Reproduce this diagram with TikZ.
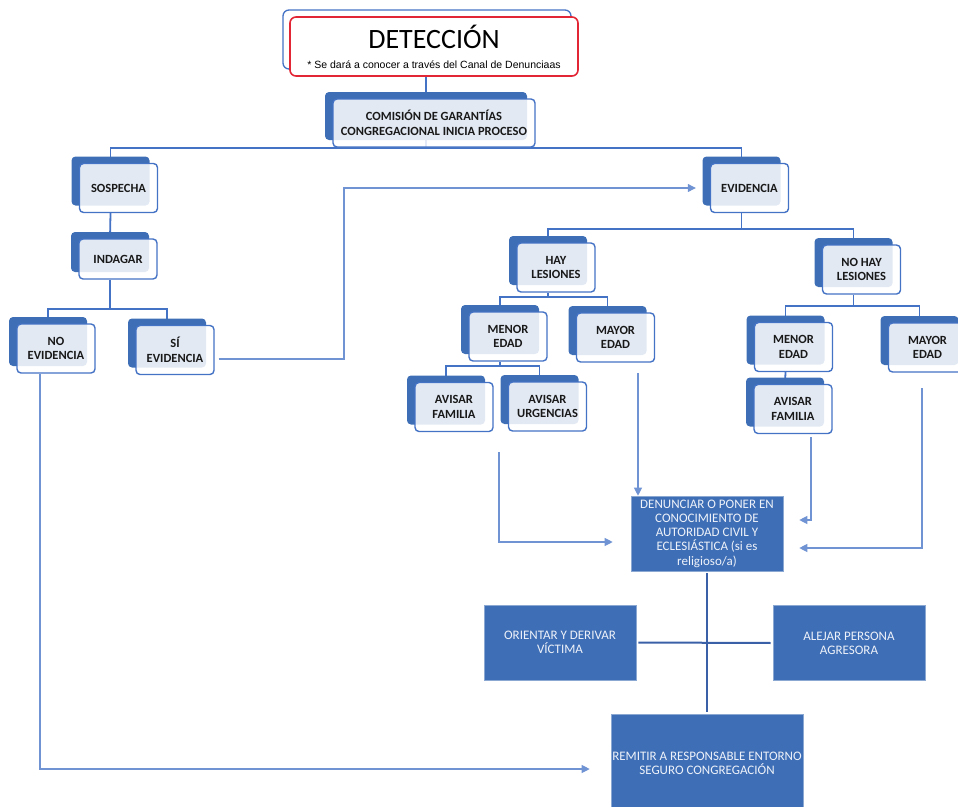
\documentclass[tikz,border=0pt]{standalone}
\usepackage{fontspec}
\setmainfont{Carlito}
\newfontfamily\arialfont{Liberation Sans}
\usetikzlibrary{arrows.meta,shadows,backgrounds}
\definecolor{boxblue}{HTML}{3E6EB5}
\definecolor{lineblue}{HTML}{4472C4}
\definecolor{arrblue}{HTML}{6F93D3}
\definecolor{detred}{HTML}{E32636}
\definecolor{paletext}{HTML}{EEF2FA}
\begin{document}
\begin{tikzpicture}[x=1pt,y=-1pt,
  lvl/.style={draw=lineblue, line width=1.4pt, rounded corners=4pt, fill=white, fill opacity=0.85, text opacity=1,
    text=black!90, minimum width=78pt, minimum height=49pt, inner sep=1pt, align=center,
    font=\fontsize{12.5}{14.5}\selectfont\bfseries,
    copy shadow={shadow xshift=-8pt, shadow yshift=7pt, fill=boxblue, draw=none, fill opacity=1}},
  fbox/.style={fill=boxblue, draw=boxblue!60, line width=0.6pt, text=paletext, inner sep=0.5pt, align=center,
    minimum width=152pt, minimum height=75pt, font=\fontsize{13}{14.3}\selectfont},
  detbox/.style={draw=detred, line width=1.6pt, rounded corners=6pt, fill=white, minimum width=288pt,
    minimum height=59pt, align=center, inner sep=1pt,
    copy shadow={shadow xshift=-7pt, shadow yshift=7pt, draw=lineblue, line width=1.3pt, fill=white}},
  tline/.style={draw=lineblue, line width=1.8pt},
  xline/.style={draw=lineblue!85!black, line width=2pt, shorten <=2pt, shorten >=2pt},
  arr/.style={draw=arrblue, line width=1.1pt, -{Triangle[length=8pt,width=8pt]}}]
\useasboundingbox (0,0) rectangle (958,806);
\node[detbox] (det) at (434,46.5) {{\fontsize{28}{30}\selectfont DETECCIÓN}\\[8pt]{\arialfont\fontsize{10.5}{12}\selectfont * Se dará a conocer a través del Canal de Denunciaas}};
\node[lvl, minimum width=202pt, minimum height=48pt] (comision) at (434,123) {COMISIÓN DE GARANTÍAS\\CONGREGACIONAL INICIA PROCESO};
\node[lvl] (sospecha) at (118.5,188) {SOSPECHA};
\node[lvl, minimum height=40pt] (indagar) at (118,259) {INDAGAR};
\node[lvl] (noev) at (56,348.5) {NO\\EVIDENCIA};
\node[lvl] (siev) at (175,350) {SÍ\\EVIDENCIA};
\node[lvl] (evidencia) at (749.5,188) {EVIDENCIA};
\node[lvl] (hay) at (556,267.5) {HAY\\LESIONES};
\node[lvl] (nohay) at (861.5,269.5) {NO HAY\\LESIONES};
\node[lvl] (menor1) at (508,336.5) {MENOR\\EDAD};
\node[lvl] (mayor1) at (615.5,337.5) {MAYOR\\EDAD};
\node[lvl] (familia1) at (454,407) {AVISAR\\FAMILIA};
\node[lvl] (urgencias) at (547.5,406.5) {AVISAR\\URGENCIAS};
\node[lvl] (menor2) at (793.5,347) {MENOR\\EDAD};
\node[lvl] (mayor2) at (927.5,347.5) {MAYOR\\EDAD};
\node[lvl] (familia2) at (793,409) {AVISAR\\FAMILIA};
\node[fbox] (denunciar) at (707,533.5) {DENUNCIAR O PONER EN\\CONOCIMIENTO DE\\AUTORIDAD CIVIL Y\\ECLESIÁSTICA (si es\\religioso/a)};
\node[fbox] (orientar) at (560,642.5) {ORIENTAR Y DERIVAR\\VÍCTIMA};
\node[fbox] (alejar) at (849,643) {ALEJAR PERSONA\\AGRESORA};
\node[fbox, minimum width=192pt, minimum height=98pt] (remitir) at (707,763) {REMITIR A RESPONSABLE ENTORNO\\SEGURO CONGREGACIÓN};
\coordinate (bus1) at (426,148);
\coordinate (bus2) at (110,309);
\coordinate (bus3) at (741.5,229);
\coordinate (bus4) at (548,297);
\coordinate (bus5) at (500,366);
\coordinate (bus6) at (853.5,306);
\coordinate (giro) at (344,188);
\coordinate (avisos1) at (499,452);
\coordinate (mayorbaja1) at (638,373);
\coordinate (avisos2) at (811,437);
\coordinate (mayorbaja2) at (922,388);
\begin{scope}[on background layer]
\draw[tline] ([xshift=-8pt]det.south) -- (bus1);
\draw[tline] ([xshift=-8pt]sospecha.north) |- (bus1) -| ([xshift=-8pt]evidencia.north);
\draw[tline] ([xshift=-8pt]sospecha.south) -- ([xshift=-8pt]indagar.north);
\draw[tline] ([xshift=-8pt]indagar.south) -- (bus2);
\draw[tline] ([xshift=-8pt]noev.north) |- (bus2) -| ([xshift=-8pt]siev.north);
\draw[tline] ([xshift=-8pt]evidencia.south) -- (bus3);
\draw[tline] ([xshift=-8pt]hay.north) |- (bus3) -| ([xshift=-8pt]nohay.north);
\draw[tline] ([xshift=-8pt]hay.south) -- (bus4);
\draw[tline] ([xshift=-8pt]menor1.north) |- (bus4) -| ([xshift=-8pt]mayor1.north);
\draw[tline] ([xshift=-8pt]menor1.south) -- (bus5);
\draw[tline] ([xshift=-8pt]familia1.north) |- (bus5) -| ([xshift=-8pt]urgencias.north);
\draw[tline] ([xshift=-8pt]nohay.south) -- (bus6);
\draw[tline] ([xshift=-8pt]menor2.north) |- (bus6) -| ([xshift=-8pt]mayor2.north);
\draw[tline] ([xshift=-8pt]menor2.south) -- ([xshift=-8pt]familia2.north);
\end{scope}
\draw[xline] (denunciar.south) -- (remitir.north);
\draw[xline] (orientar.east) -- (alejar.west);
\draw[arr] ([shift={(4pt,-9pt)}]siev.east) -| (giro) -- ([xshift=-14pt]evidencia.west);
\draw[arr] ([xshift=-16pt]noev.south) |- ([xshift=-21pt,yshift=-6pt]remitir.west);
\draw[arr] (avisos1) |- ([xshift=-18pt,yshift=-8.5pt]denunciar.west);
\draw[arr] (mayorbaja1) -- (mayorbaja1 |- denunciar.north);
\draw[arr] (avisos2) |- ([xshift=16pt,yshift=13.5pt]denunciar.east);
\draw[arr] (mayorbaja2) |- ([xshift=16pt,yshift=-14.5pt]denunciar.east);
\end{tikzpicture}
\end{document}
